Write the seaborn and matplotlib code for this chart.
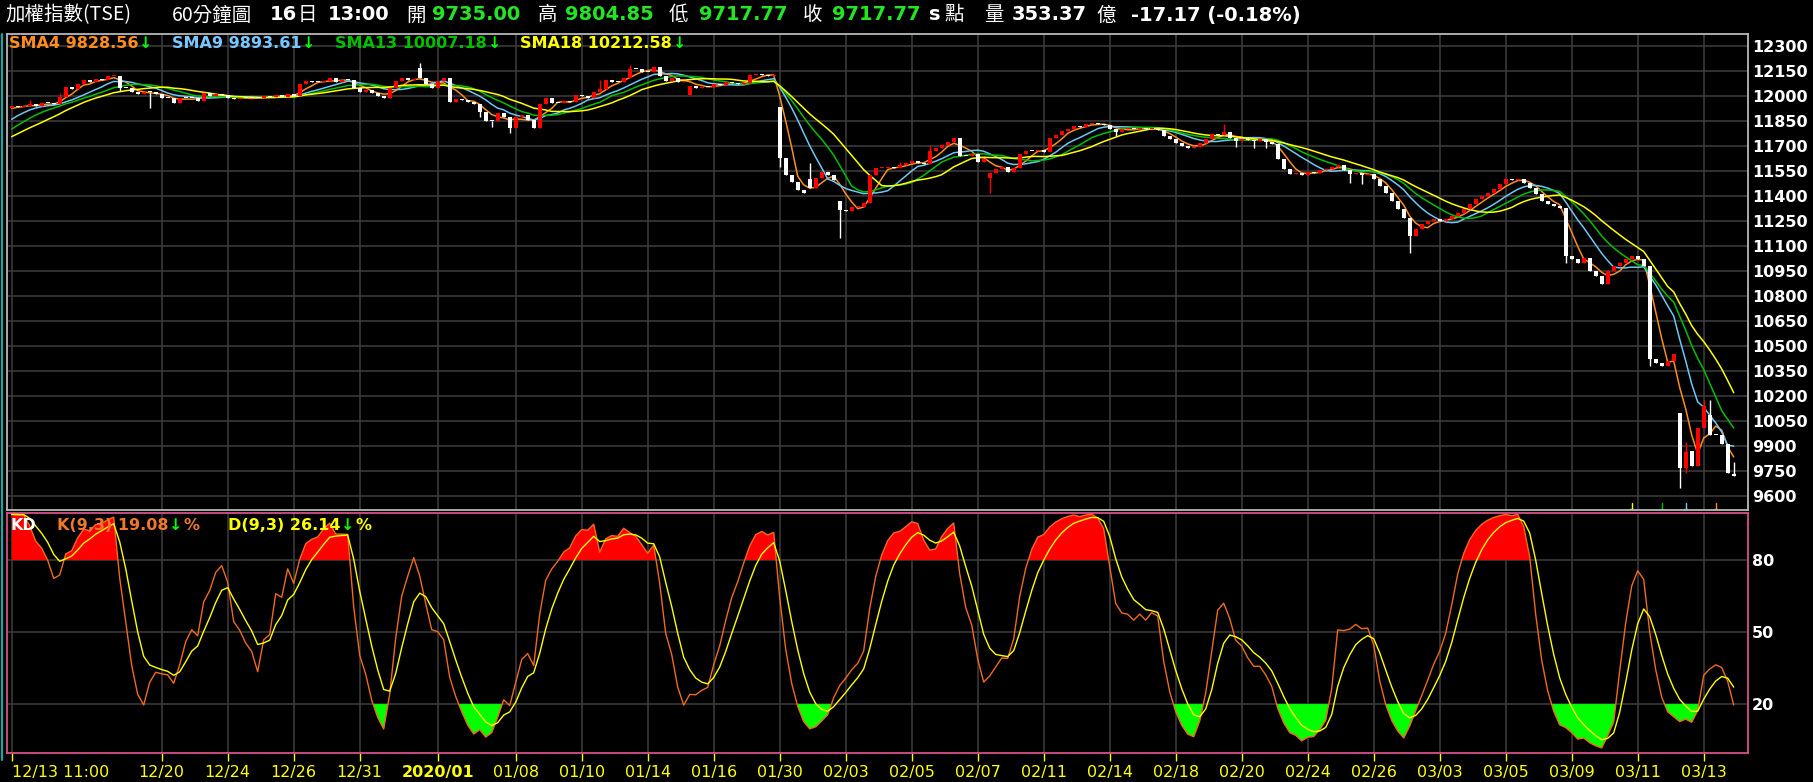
import numpy as np
import pandas as pd
import matplotlib
matplotlib.use("Agg")
import matplotlib.pyplot as plt
import seaborn as sns

W, H = 1813, 782

# hidden bars before the window, only used to warm up the moving averages / KD
warmup_close = [11610, 11625, 11635, 11650, 11666, 11640, 11660, 11680, 11700,
                11740, 11780, 11800, 11840, 11880, 11910, 11920, 11930]

# hourly closes, 12/13 11:00 -> 03/16 13:00
close_px = [
    11942, 11936, 11940, 11950, 11942, 11956, 11956, 11952, 11996, 12056,
    12040, 12070, 12096, 12082, 12102, 12096, 12120, 12122, 12050, 12046,
    12022, 12010, 12022, 12022, 12010, 11990, 11990, 11956, 11990, 11990,
    11986, 11970, 12016, 12002, 12010, 12006, 11990, 11980, 11990, 11986,
    11986, 11986, 12002, 11996, 12006, 11996, 12010, 12000, 12070, 12090,
    12082, 12082, 12090, 12106, 12086, 12096, 12096, 12046, 12022, 12036,
    12016, 12002, 11990, 12046, 12090, 12106, 12094, 12102, 12110, 12070,
    12050, 12090, 12106, 11966, 11982, 11976, 11966, 11950, 11906, 11850,
    11850, 11896, 11876, 11806, 11872, 11886, 11856, 11810, 11950, 11986,
    11956, 11956, 11970, 11966, 12006, 12002, 11990, 12022, 12040, 12096,
    12086, 12082, 12110, 12162, 12160, 12146, 12146, 12176, 12122, 12090,
    12106, 12086, 12090, 12062, 12046, 12056, 12056, 12070, 12066, 12082,
    12076, 12070, 12080, 12126, 12130, 12126, 12122, 12126, 11626, 11526,
    11486, 11436, 11420, 11446, 11506, 11546, 11526, 11496, 11316, 11312,
    11332, 11336, 11356, 11526, 11566, 11570, 11572, 11566, 11586, 11600,
    11612, 11596, 11590, 11672, 11686, 11706, 11726, 11746, 11640, 11640,
    11650, 11606, 11620, 11540, 11560, 11572, 11546, 11566, 11652, 11672,
    11672, 11676, 11666, 11746, 11766, 11790, 11800, 11820, 11815, 11830,
    11840, 11830, 11825, 11800, 11785, 11800, 11805, 11800, 11810, 11800,
    11805, 11795, 11760, 11740, 11720, 11700, 11690, 11695, 11720, 11745,
    11770, 11765, 11785, 11750, 11730, 11745, 11735, 11730, 11740, 11725,
    11715, 11620, 11560, 11530, 11540, 11525, 11545, 11540, 11555, 11565,
    11575, 11585, 11555, 11535, 11540, 11525, 11530, 11505, 11460, 11420,
    11370, 11320, 11270, 11160, 11200, 11230, 11250, 11260, 11250, 11260,
    11280, 11300, 11320, 11350, 11380, 11400, 11420, 11440, 11470, 11500,
    11495, 11505, 11480, 11450, 11410, 11370, 11350, 11340, 11330, 11040,
    11020, 11000, 11030, 10950, 10920, 10870, 10950, 10980, 11000, 11020,
    11040, 11020, 10980, 10420, 10400, 10380, 10410, 10450, 9766, 9866,
    9780, 10006, 10140, 9966, 9966, 9912, 9740, 9718,
]

# opens that differ from the previous close (gaps)
open_gap = {68: 12170, 113: 12006, 128: 11932, 133: 11500, 138: 11372,
            163: 11506, 278: 10096, 280: 9870, 283: 10086, 287: 9735}
# visible long shadows
wick_high = {3: 11976, 8: 12016, 18: 12106, 68: 12196, 78: 11936, 98: 12096,
             103: 12186, 133: 11596, 148: 11606, 153: 11706, 202: 11830,
             233: 11250, 279: 9926, 282: 10176, 283: 10176, 287: 9805}
wick_low = {18: 12030, 23: 11930, 78: 11876, 80: 11816, 83: 11776, 128: 11572,
            138: 11146, 163: 11420, 184: 11760, 204: 11695, 207: 11690,
            209: 11690, 223: 11480, 225: 11470, 233: 11060, 259: 11000,
            273: 10380, 278: 9646, 279: 9740}

tick_bars = [0, 25, 36, 47, 58, 71, 84, 95, 106, 117, 128, 139, 150, 161, 172,
             183, 194, 205, 216, 227, 238, 249, 260, 271, 282]
tick_labels = ["12/13 11:00", "12/20", "12/24", "12/26", "12/31", "2020/01",
               "01/08", "01/10", "01/14", "01/16", "01/30", "02/03", "02/05",
               "02/07", "02/11", "02/14", "02/18", "02/20", "02/24", "02/26",
               "03/03", "03/05", "03/09", "03/11", "03/13"]
price_ticks = [12300, 12150, 12000, 11850, 11700, 11550, 11400, 11250, 11100,
               10950, 10800, 10650, 10500, 10350, 10200, 10050, 9900, 9750, 9600]
kd_ticks = [80, 50, 20]

sma_periods = [4, 9, 13, 18]
sma_colors = ["#ff8c1e", "#6cc8f4", "#00c000", "#ffff00"]

# ---- build OHLC + indicators ----
n0 = len(warmup_close)
c = np.array(warmup_close + close_px, dtype=float)
o = np.r_[c[0], c[:-1]]
for k, v in open_gap.items():
    o[n0 + k] = v
hi = np.maximum(o, c)
lo = np.minimum(o, c)
for k, v in wick_high.items():
    hi[n0 + k] = max(hi[n0 + k], v)
for k, v in wick_low.items():
    lo[n0 + k] = min(lo[n0 + k], v)

df = pd.DataFrame({"o": o, "h": hi, "l": lo, "c": c})
for p in sma_periods:
    df[f"sma{p}"] = df["c"].rolling(p).mean()

low9 = df["l"].rolling(9, min_periods=1).min()
high9 = df["h"].rolling(9, min_periods=1).max()
rsv = ((df["c"] - low9) / (high9 - low9) * 100).fillna(50)
k_line, d_line = [], []
kv = dv = 50.0
for r in rsv:
    kv = kv * 2 / 3 + r / 3
    dv = dv * 2 / 3 + kv / 3
    k_line.append(kv)
    d_line.append(dv)
df["K"] = k_line
df["D"] = d_line

df = df.iloc[n0:].reset_index(drop=True)
df["bar"] = np.arange(len(df))
nbar = len(df)

# ---- figure ----
sns.set_theme(style="dark")
plt.rcParams["font.family"] = ["DejaVu Sans", "Noto Sans CJK TC"]
plt.rcParams["axes.unicode_minus"] = False

fig = plt.figure(figsize=(W / 100, H / 100), dpi=100, facecolor="black")


def fx(x):
    return x / W


def fy(y):
    return 1 - y / H


x_lo = (7 - 11.7) / 6
x_hi = (1748 - 11.7) / 6
ax = fig.add_axes([fx(7), fy(510), fx(1748) - fx(7), fy(34) - fy(510)])
ax2 = fig.add_axes([fx(7), fy(753), fx(1748) - fx(7), fy(513) - fy(753)])

grid_col = "#3e3e3e"
for a in (ax, ax2):
    a.set_facecolor("black")
    a.set_xlim(x_lo, x_hi)
    for t in tick_bars:
        a.axvline(t, color=grid_col, lw=1.1, zorder=0)
ax.set_ylim(9516, 12372)
ax2.set_ylim(-0.4, 99.6)
for p in price_ticks:
    ax.axhline(p, color=grid_col, lw=1.1, zorder=0)
for p in kd_ticks:
    ax2.axhline(p, color=grid_col, lw=1.1, zorder=0)

# moving averages
for p, col in zip(sma_periods, sma_colors):
    sns.lineplot(x=df["bar"], y=df[f"sma{p}"], color=col, lw=1.1, ax=ax,
                 zorder=2, legend=False)
    # window start marker at the bottom
    st = nbar - p
    ax.plot([st, st], [9516, 9558], color=col, lw=1, zorder=2)
    ax.plot([st - 0.3, st + 0.3], [9522, 9522], color=col, lw=1, zorder=2)

# candles
up = df["c"] > df["o"]
for mask, col in ((up, "#ff0000"), (~up, "#ffffff")):
    sub = df[mask]
    ax.vlines(sub["bar"], sub["l"], sub["h"], color=col, lw=1, zorder=3)
    body_lo = np.minimum(sub["o"], sub["c"])
    body_h = np.maximum((sub["c"] - sub["o"]).abs(), 6)
    ax.bar(sub["bar"], body_h, bottom=body_lo, width=0.7, color=col,
           linewidth=0, zorder=4)

# KD
kk = df["K"].to_numpy()
ax2.fill_between(df["bar"], 80, kk, where=kk > 80, interpolate=True,
                 color="#ff0000", lw=0, zorder=1)
ax2.fill_between(df["bar"], 20, kk, where=kk < 20, interpolate=True,
                 color="#00ff00", lw=0, zorder=1)
sns.lineplot(x=df["bar"], y=df["K"], color="#f06a1e", lw=1, ax=ax2, zorder=3,
             legend=False)
sns.lineplot(x=df["bar"], y=df["D"], color="#ffff00", lw=1, ax=ax2, zorder=3,
             legend=False)

# axes styling
for a, spc in ((ax, "#b8b8b8"), (ax2, "#d8508a")):
    a.set_xlabel("")
    a.set_ylabel("")
    a.yaxis.tick_right()
    for s in a.spines.values():
        s.set_color(spc)
        s.set_linewidth(1.3)
        s.set_visible(True)
ax.set_xticks([])
ax.set_yticks(price_ticks)
ax.set_yticklabels([str(p) for p in price_ticks], color="white",
                   fontweight="bold", fontsize=11.5)
ax.tick_params(axis="y", length=0, pad=3)
ax2.set_yticks(kd_ticks)
ax2.set_yticklabels([str(p) for p in kd_ticks], color="white",
                    fontweight="bold", fontsize=11.5)
ax2.tick_params(axis="y", length=0, pad=3)
ax2.set_xticks(tick_bars)
ax2.set_xticklabels(tick_labels, color="#ffff00", fontsize=11.5)
ax2.tick_params(axis="x", length=6, width=1, color="#ffff00", pad=3,
                direction="out", bottom=True)
lbls = ax2.get_xticklabels()
lbls[0].set_ha("left")
lbls[5].set_fontweight("bold")

# left edge line
fig.add_artist(plt.Line2D([fx(1.5), fx(1.5)], [fy(34), fy(760)],
                          color="#00b0b0", lw=1.5))

# ---- header ----
cjk = ["Noto Sans CJK TC", "DejaVu Sans"]
white, green = "#ffffff", "#22e622"
ty = 15
header = [
    (5, "加權指數(TSE)", white, cjk, "normal"),
    (172, "60分鐘圖", white, cjk, "normal"),
    (270, "16", white, None, "bold"),
    (298, "日", white, cjk, "normal"),
    (328, "13:00", white, None, "bold"),
    (406, "開", white, cjk, "normal"),
    (432, "9735.00", green, None, "bold"),
    (538, "高", white, cjk, "normal"),
    (565, "9804.85", green, None, "bold"),
    (669, "低", white, cjk, "normal"),
    (699, "9717.77", green, None, "bold"),
    (803, "收", white, cjk, "normal"),
    (832, "9717.77", green, None, "bold"),
    (929, "s", white, None, "bold"),
    (944, "點", white, cjk, "normal"),
    (984, "量", white, cjk, "normal"),
    (1012, "353.37", white, None, "bold"),
    (1096, "億", white, cjk, "normal"),
    (1131, "-17.17 (-0.18%)", white, None, "bold"),
]
for x, s, col, fam, wt in header:
    kw = {"family": fam} if fam else {}
    fig.text(fx(x), fy(ty), s, color=col, fontsize=14, fontweight=wt,
             va="center", ha="left", **kw)


def chain(host, x, y, pieces, size=11.5):
    """place text pieces one after another, starting at pixel (x, y)"""
    s, col = pieces[0]
    prev = host.text(fx(x), fy(y), s, color=col, fontsize=size,
                     fontweight="bold", va="center", ha="left",
                     transform=fig.transFigure, zorder=6)
    for s, col in pieces[1:]:
        prev = host.annotate(s, xy=(1, 0), xycoords=prev, xytext=(0.5, 0),
                             textcoords="offset points", va="bottom",
                             ha="left", color=col, fontsize=size,
                             fontweight="bold", annotation_clip=False,
                             zorder=6)


arrow_col = "#00ff00"
chain(ax, 9, 43, [("SMA4 9828.56", sma_colors[0]), ("↓", arrow_col)])
chain(ax, 172, 43, [("SMA9 9893.61", "#78c8ff"), ("↓", arrow_col)])
chain(ax, 335, 43, [("SMA13 10007.18", "#00c000"), ("↓", arrow_col)])
chain(ax, 520, 43, [("SMA18 10212.58", "#ffff00"), ("↓", arrow_col)])

ky = 525
chain(ax2, 10, ky, [("KD", "white")])
chain(ax2, 57, ky, [("K(9,3) 19.08", "#f0782a"), ("↓", arrow_col),
                    ("%", "#f0782a")])
chain(ax2, 228, ky, [("D(9,3) 26.14", "#ffff00"), ("↓", arrow_col),
                     ("%", "#ffff00")])

fig.savefig("out.png", dpi=100, facecolor="black")
plt.close(fig)
